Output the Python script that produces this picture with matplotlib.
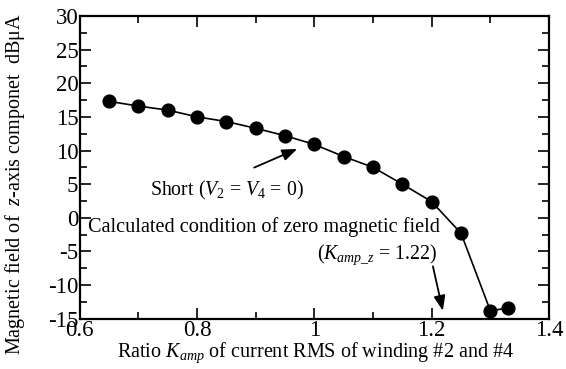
import matplotlib.pyplot as plt
from matplotlib.ticker import MultipleLocator

plt.rcParams['font.family'] = ['Liberation Serif', 'DejaVu Serif']
plt.rcParams['mathtext.fontset'] = 'custom'
plt.rcParams['mathtext.rm'] = 'Liberation Serif'
plt.rcParams['mathtext.it'] = 'Liberation Serif:italic'
plt.rcParams['axes.unicode_minus'] = False

k_amp = [0.65, 0.70, 0.75, 0.80, 0.85, 0.90, 0.95, 1.00, 1.05, 1.10, 1.15, 1.20, 1.25, 1.30, 1.33]
h_z = [17.3, 16.6, 16.0, 15.0, 14.3, 13.3, 12.2, 10.9, 9.1, 7.5, 5.0, 2.4, -2.3, -13.8, -13.4]

fig = plt.figure(figsize=(5.66, 3.69), dpi=100)
ax = fig.add_axes([0.141, 0.136, 0.829, 0.821])

ax.plot(k_amp, h_z, color='black', lw=1.2, marker='o', ms=9.2, zorder=3)

ax.set_xlim(0.6, 1.4)
ax.set_ylim(-15, 30)
ax.xaxis.set_minor_locator(MultipleLocator(0.1))
ax.yaxis.set_major_locator(MultipleLocator(5))
ax.yaxis.set_minor_locator(MultipleLocator(2.5))
ax.set_xticks([0.6, 0.8, 1.0, 1.2, 1.4])
ax.set_xticklabels(['0.6', '0.8', '1', '1.2', '1.4'])
ax.tick_params(which='both', direction='in', top=True, right=True, width=1.2)
ax.tick_params(which='major', length=8, labelsize=16.5, pad=1)
ax.tick_params(which='minor', length=5)
for s in ax.spines.values():
    s.set_linewidth(1.6)

fig.text(0.557, 0.043, r'Ratio $K_{amp}$ of current RMS of winding #2 and #4',
         fontsize=14.5, ha='center', va='center')
fig.text(0.027, 0.5, r'Magnetic field of  $z$-axis componet  dB$\mathrm{\mu}$A',
         fontsize=14.5, ha='center', va='center', rotation=90)

ax.annotate('', xy=(0.975, 10.4), xytext=(0.893, 7.3),
            arrowprops=dict(arrowstyle='-|>,head_length=0.9,head_width=0.35', color='black', lw=1.3))
ax.text(0.851, 4.1, r'Short ($V_2$ = $V_4$ = 0)', fontsize=14.3, ha='center', va='center')
ax.text(0.614, -1.4, 'Calculated condition of zero magnetic field', fontsize=14.6, ha='left', va='center')
ax.text(1.21, -5.5, r'($K_{amp\_z}$ = 1.22)', fontsize=14.3, ha='right', va='center')
ax.annotate('', xy=(1.22, -14.2), xytext=(1.201, -6.8),
            arrowprops=dict(arrowstyle='-|>,head_length=0.9,head_width=0.35', color='black', lw=1.3))

fig.savefig('out.png', dpi=100)
